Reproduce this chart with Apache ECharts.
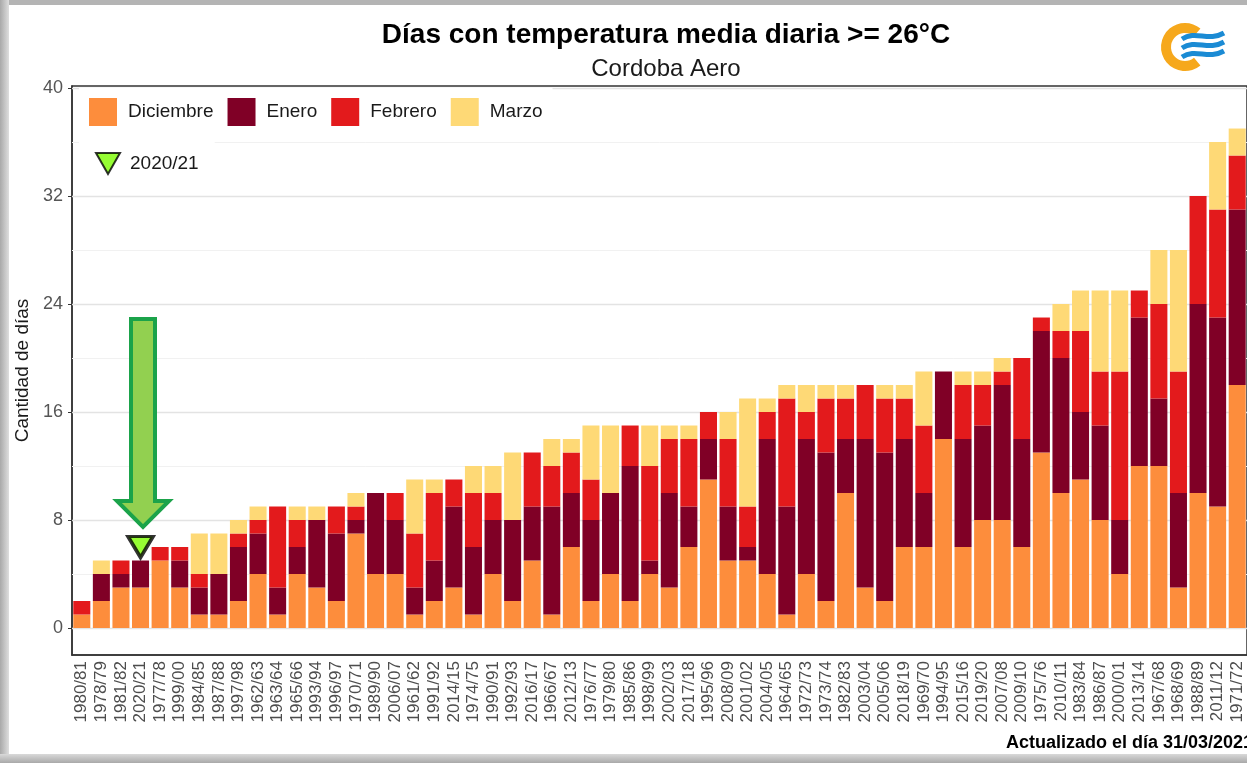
<!DOCTYPE html>
<html>
<head>
<meta charset="utf-8">
<title>Días con temperatura media diaria >= 26°C</title>
<script src="https://cdn.jsdelivr.net/npm/echarts@6/dist/echarts.min.js"></script>
<style>
  html, body { margin: 0; padding: 0; background: #fff; }
  #chart { width: 1247px; height: 763px; }
</style>
</head>
<body>
<div id="chart"></div>
<script>
// seasons sorted by total number of days
const seasons = [
  "1980/81", "1978/79", "1981/82", "2020/21", "1977/78", "1999/00", "1984/85", "1987/88", "1997/98", "1962/63",
  "1963/64", "1965/66", "1993/94", "1996/97", "1970/71", "1989/90", "2006/07", "1961/62", "1991/92", "2014/15",
  "1974/75", "1990/91", "1992/93", "2016/17", "1966/67", "2012/13", "1976/77", "1979/80", "1985/86", "1998/99",
  "2002/03", "2017/18", "1995/96", "2008/09", "2001/02", "2004/05", "1964/65", "1972/73", "1973/74", "1982/83",
  "2003/04", "2005/06", "2018/19", "1969/70", "1994/95", "2015/16", "2019/20", "2007/08", "2009/10", "1975/76",
  "2010/11", "1983/84", "1986/87", "2000/01", "2013/14", "1967/68", "1968/69", "1988/89", "2011/12", "1971/72"
]

const diciembre = [1, 2, 3, 3, 5, 3, 1, 1, 2, 4, 1, 4, 3, 2, 7, 4, 4, 1, 2, 3,
  1, 4, 2, 5, 1, 6, 2, 4, 2, 4, 3, 6, 11, 5, 5, 4, 1, 4, 2, 10,
  3, 2, 6, 6, 14, 6, 8, 8, 6, 13, 10, 11, 8, 4, 12, 12, 3, 10, 9, 18]
const enero = [0, 2, 1, 2, 0, 2, 2, 3, 4, 3, 2, 2, 5, 5, 1, 6, 4, 2, 3, 6,
  5, 4, 6, 4, 8, 4, 6, 6, 10, 1, 7, 3, 3, 4, 1, 10, 8, 10, 11, 4,
  11, 11, 8, 4, 5, 8, 7, 10, 8, 9, 10, 5, 7, 4, 11, 5, 7, 14, 14, 13]
const febrero = [1, 0, 1, 0, 1, 1, 1, 0, 1, 1, 6, 2, 0, 2, 1, 0, 2, 4, 5, 2,
  4, 2, 0, 4, 3, 3, 3, 0, 3, 7, 4, 5, 2, 5, 3, 2, 8, 2, 4, 3,
  4, 4, 3, 5, 0, 4, 3, 1, 6, 1, 2, 6, 4, 11, 2, 7, 9, 8, 8, 4]
const marzo = [0, 1, 0, 0, 0, 0, 3, 3, 1, 1, 0, 1, 1, 0, 1, 0, 0, 4, 1, 0,
  2, 2, 5, 0, 2, 1, 4, 5, 0, 3, 1, 1, 0, 2, 8, 1, 1, 2, 1, 1,
  0, 1, 1, 4, 0, 1, 1, 1, 0, 0, 2, 3, 6, 6, 0, 4, 9, 0, 5, 2]

// current season marker
const markerSeason = "2020/21"
const markerValue = 6

const yTicks = [0, 8, 16, 24, 32, 40]
const yMinorTicks = [4, 12, 20, 28, 36]

const FONT = "'Liberation Sans', Arial, sans-serif"

const chart = echarts.init(document.getElementById("chart"), null, { renderer: "canvas" })

const gridLines = yTicks.map((v) => ({ yAxis: v, lineStyle: { color: "#e3e3e3", width: 1.4, type: "solid" } }))
  .concat(yMinorTicks.map((v) => ({ yAxis: v, lineStyle: { color: "#f1f1f1", width: 1, type: "solid" } })))

function barSeries(name, values, color) {
  return {
    name,
    type: "bar",
    stack: "total",
    data: values,
    barCategoryGap: "13%",
    itemStyle: { color },
    emphasis: { disabled: true },
  }
}

const series = [
  barSeries("Diciembre", diciembre, "#FD8D3C"),
  barSeries("Enero", enero, "#800026"),
  barSeries("Febrero", febrero, "#E31A1C"),
  barSeries("Marzo", marzo, "#FED976"),
  {
    name: "2020/21",
    type: "scatter",
    data: [[markerSeason, markerValue]],
    symbol: "triangle",
    symbolRotate: 180,
    symbolSize: [25, 21],
    itemStyle: { color: "#7CFC00", borderColor: "#000", borderWidth: 3.5 },
    z: 6,
  },
]

// background grid lines, below the bars
series[0].markLine = {
  silent: true,
  symbol: ["none", "none"],
  label: { show: false },
  z: 1,
  animation: false,
  data: gridLines,
}

chart.setOption({
  animation: false,
  backgroundColor: "#fff",
  textStyle: { fontFamily: FONT },
  title: {
    text: "Días con temperatura media diaria >= 26°C",
    subtext: "Cordoba Aero",
    left: 661,
    top: 15,
    textAlign: "center",
    itemGap: 6,
    textStyle: { fontFamily: FONT, fontSize: 28, fontWeight: "bold", color: "#000", lineHeight: 30 },
    subtextStyle: { fontFamily: FONT, fontSize: 24, color: "#1a1a1a", lineHeight: 26 },
  },
  legend: [
    {
      data: ["Diciembre", "Enero", "Febrero", "Marzo"],
      left: 79,
      top: 88,
      icon: "rect",
      itemWidth: 28,
      itemHeight: 28,
      itemGap: 14,
      padding: 10,
      backgroundColor: "#fff",
      selectedMode: false,
      textStyle: { fontFamily: FONT, fontSize: 19, color: "#1a1a1a", padding: [0, 0, 0, 6] },
    },
    {
      data: [{ name: "2020/21", icon: "path://M0,0L24,0L12,21Z" }],
      left: 79,
      top: 140,
      itemWidth: 24,
      itemHeight: 22,
      padding: [12, 16, 12, 16],
      backgroundColor: "#fff",
      selectedMode: false,
      textStyle: { fontFamily: FONT, fontSize: 19, color: "#1a1a1a", padding: [0, 0, 0, 5] },
    },
  ],
  grid: {
    left: 72,
    top: 86,
    bottom: 108,
    right: -4,
    show: true,
    borderColor: "#333",
    borderWidth: 1.5,
    backgroundColor: "transparent",
  },
  xAxis: {
    type: "category",
    data: seasons,
    axisLine: { onZero: false, lineStyle: { color: "#333", width: 1.5 } },
    axisTick: { alignWithLabel: true, interval: 0, length: 4, lineStyle: { color: "#333" } },
    axisLabel: { interval: 0, rotate: 90, fontSize: 17, color: "#4d4d4d", margin: 6, fontFamily: FONT },
    splitLine: { show: false },
  },
  yAxis: {
    type: "value",
    min: -2,
    max: 40.15,
    name: "Cantidad de días",
    nameLocation: "middle",
    nameGap: 38,
    nameTextStyle: { fontSize: 19, color: "#1a1a1a", fontFamily: FONT },
    axisLine: { show: true, lineStyle: { color: "#333", width: 1.5 } },
    axisTick: { show: true, length: 4, customValues: yTicks, lineStyle: { color: "#333" } },
    axisLabel: { customValues: yTicks, fontSize: 18, color: "#555", margin: 9, fontFamily: FONT },
    splitLine: { show: false },
  },
  series,
  graphic: [
    // screenshot frame shadow
    { type: "rect", shape: { x: 0, y: 0, width: 1247, height: 5 }, style: { fill: "#b4b4b4" }, silent: true },
    { type: "rect", shape: { x: 0, y: 0, width: 9, height: 763 }, style: { fill: new echarts.graphic.LinearGradient(0, 0, 1, 0, [{ offset: 0, color: "#a9a9a9" }, { offset: 1, color: "#dedede" }]) }, silent: true },
    { type: "rect", shape: { x: 0, y: 754, width: 1247, height: 9 }, style: { fill: new echarts.graphic.LinearGradient(0, 0, 0, 1, [{ offset: 0, color: "#d9d9d9" }, { offset: 1, color: "#a9a9a9" }]) }, silent: true },
    // logo
    { type: "sector", shape: { cx: 1185, cy: 47, r0: 14, r: 24, startAngle: Math.PI / 3.6, endAngle: Math.PI * 2 - Math.PI / 3.6 }, style: { fill: "#F6A81C" }, silent: true },
    { type: "bezierCurve", shape: { x1: 1182, y1: 39, cpx1: 1196, cpy1: 30, cpx2: 1208, cpy2: 42, x2: 1224, y2: 33 }, style: { stroke: "#1B8BD4", lineWidth: 5, fill: null }, silent: true },
    { type: "bezierCurve", shape: { x1: 1182, y1: 48, cpx1: 1196, cpy1: 39, cpx2: 1208, cpy2: 51, x2: 1224, y2: 42 }, style: { stroke: "#1B8BD4", lineWidth: 5, fill: null }, silent: true },
    { type: "bezierCurve", shape: { x1: 1182, y1: 57, cpx1: 1196, cpy1: 48, cpx2: 1208, cpy2: 60, x2: 1224, y2: 51 }, style: { stroke: "#1B8BD4", lineWidth: 5, fill: null }, silent: true },
    // green annotation arrow
    {
      type: "polygon",
      shape: { points: [[131, 319], [155, 319], [155, 501], [169, 501], [143, 527], [117, 501], [131, 501]] },
      style: { fill: "#92D050", stroke: "#1BA34A", lineWidth: 4, lineJoin: "miter" },
      z: 10,
      silent: true,
    },
    // footer
    {
      type: "text",
      x: 1253,
      y: 743,
      style: { text: "Actualizado el día 31/03/2021", fontFamily: FONT, fontSize: 18, fontWeight: "bold", fill: "#000", align: "right", verticalAlign: "middle" },
      silent: true,
    },
  ],
})
</script>
</body>
</html>
